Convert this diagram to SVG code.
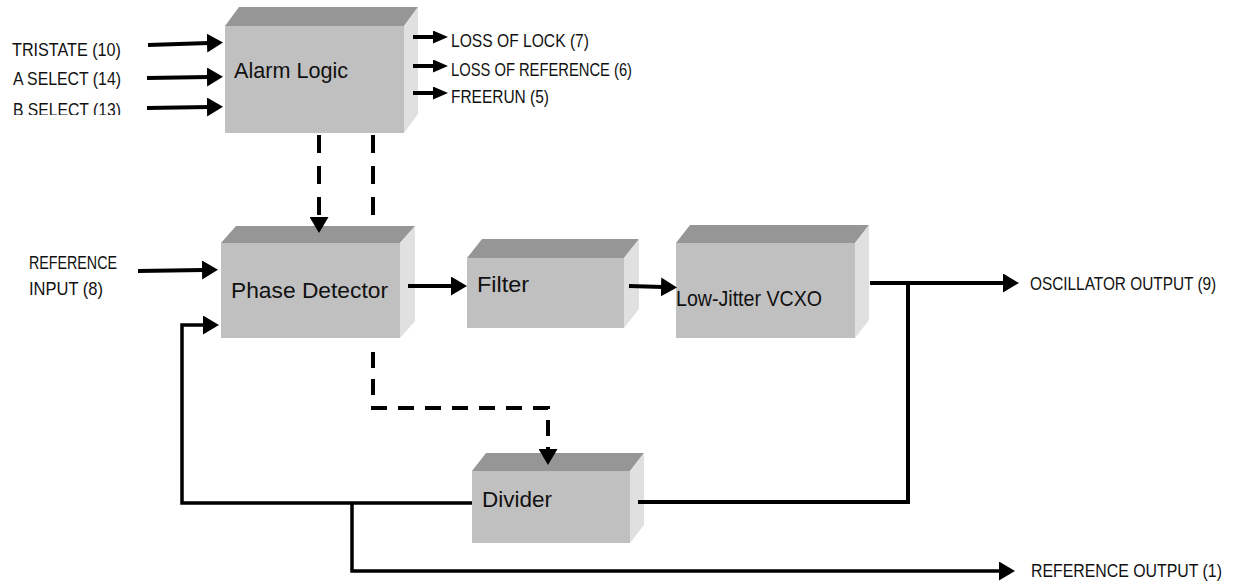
<svg xmlns="http://www.w3.org/2000/svg" width="1233" height="585" viewBox="0 0 1233 585">
  <style>
    .front { fill: #c0c0c0; }
    .top { fill: #969696; }
    .side { fill: #e0e0e0; }
    .lbl { font-family: "Liberation Sans", Arial, sans-serif; font-size: 19px; fill: #111; }
    .blbl { font-family: "Liberation Sans", Arial, sans-serif; font-size: 22px; fill: #111; }
    .ln { fill: none; stroke: #000; stroke-width: 4; }
    .thin { fill: none; stroke: #000; stroke-width: 3.5; }
    .dash { fill: none; stroke: #000; stroke-width: 4; stroke-dasharray: 18 13; }
    .dash2 { fill: none; stroke: #000; stroke-width: 4; stroke-dasharray: 16 11; }
  </style>
  <defs>
    <marker id="ah" viewBox="0 0 16 19" markerWidth="16" markerHeight="19" markerUnits="userSpaceOnUse" refX="2" refY="9.5" orient="auto">
      <path d="M0,0 L16,9.5 L0,19 Z" fill="#000"/>
    </marker>
    <marker id="ahs" viewBox="0 0 15 13" markerWidth="15" markerHeight="13" markerUnits="userSpaceOnUse" refX="2" refY="6.5" orient="auto">
      <path d="M0,0 L15,6.5 L0,13 Z" fill="#000"/>
    </marker>
    <clipPath id="clipB">
      <rect x="0" y="0" width="140" height="115"/>
    </clipPath>
  </defs>

  <!-- Nodes -->
  <g id="alarm-logic">
    <polygon class="top" points="225,26 239,7 418,7 404,26"/>
    <polygon class="side" points="404,26 418,7 418,114 404,133"/>
    <rect class="front" x="225" y="26" width="179" height="107"/>
    <text class="blbl" x="234" y="78" textLength="114" lengthAdjust="spacingAndGlyphs">Alarm Logic</text>
  </g>

  <g id="phase-detector">
    <polygon class="top" points="221,243 236,226 415,226 400,243"/>
    <polygon class="side" points="400,243 415,226 415,321 400,338"/>
    <rect class="front" x="221" y="243" width="179" height="95"/>
    <text class="blbl" x="231" y="298" textLength="157" lengthAdjust="spacingAndGlyphs">Phase Detector</text>
  </g>

  <g id="filter">
    <polygon class="top" points="467,258 482,239 639,239 624,258"/>
    <polygon class="side" points="624,258 639,239 639,309 624,328"/>
    <rect class="front" x="467" y="258" width="157" height="70"/>
    <text class="blbl" x="477" y="292" textLength="52" lengthAdjust="spacingAndGlyphs">Filter</text>
  </g>

  <g id="vcxo">
    <polygon class="top" points="676,243 690,225 869,225 855,243"/>
    <polygon class="side" points="855,243 869,225 869,320 855,338"/>
    <rect class="front" x="676" y="243" width="179" height="95"/>
    <text class="blbl" x="676" y="306" textLength="146" lengthAdjust="spacingAndGlyphs">Low-Jitter VCXO</text>
  </g>

  <g id="divider">
    <polygon class="top" points="472,471 486,453 644,453 630,471"/>
    <polygon class="side" points="630,471 644,453 644,525 630,543"/>
    <rect class="front" x="472" y="471" width="158" height="72"/>
    <text class="blbl" x="482" y="507" textLength="70" lengthAdjust="spacingAndGlyphs">Divider</text>
  </g>

  <g id="labels">
    <text class="lbl" x="12" y="56" textLength="109" lengthAdjust="spacingAndGlyphs">TRISTATE (10)</text>
    <text class="lbl" x="13" y="85" textLength="108" lengthAdjust="spacingAndGlyphs">A SELECT (14)</text>
    <text class="lbl" x="13" y="116" textLength="108" lengthAdjust="spacingAndGlyphs" clip-path="url(#clipB)">B SELECT (13)</text>
    <text class="lbl" x="451" y="47" textLength="138" lengthAdjust="spacingAndGlyphs">LOSS OF LOCK (7)</text>
    <text class="lbl" x="451" y="76" textLength="181" lengthAdjust="spacingAndGlyphs">LOSS OF REFERENCE (6)</text>
    <text class="lbl" x="451" y="103" textLength="98" lengthAdjust="spacingAndGlyphs">FREERUN (5)</text>
    <text class="lbl" x="29" y="269" textLength="88" lengthAdjust="spacingAndGlyphs">REFERENCE</text>
    <text class="lbl" x="29" y="295" textLength="74" lengthAdjust="spacingAndGlyphs">INPUT (8)</text>
    <text class="lbl" transform="translate(1030,290) scale(0.81,1)">OSCILLATOR OUTPUT (9)</text>
    <text class="lbl" transform="translate(1031,577) scale(0.835,1)">REFERENCE OUTPUT (1)</text>
  </g>

  <!-- Connectors -->
  <g id="connectors">
    <path class="ln" d="M148,45 L209,43" marker-end="url(#ah)"/>
    <path class="ln" d="M147,78 L209,77" marker-end="url(#ah)"/>
    <path class="ln" d="M147,108 L209,107" marker-end="url(#ah)"/>
    <path class="ln" d="M413,37 L435,37" marker-end="url(#ahs)"/>
    <path class="ln" d="M413,66 L435,66" marker-end="url(#ahs)"/>
    <path class="ln" d="M413,93 L435,93" marker-end="url(#ahs)"/>
    <path class="dash" d="M319,135 L319,219" marker-end="url(#ah)"/>
    <path class="dash" d="M373,135 L373,216"/>
    <path class="dash2" d="M373,352 L373,408 L548,408 L548,451" marker-end="url(#ah)"/>
    <path class="ln" d="M138,271 L204,270" marker-end="url(#ah)"/>
    <path class="ln" d="M408,286 L453,286" marker-end="url(#ah)"/>
    <path class="ln" d="M629,286 L663,287" marker-end="url(#ah)"/>
    <path class="ln" d="M870,283 L1005,283" marker-end="url(#ah)"/>
    <path class="ln" d="M908,283 L908,502 L638,502"/>
    <path class="thin" d="M472,503 L182,503 L182,325 L205,325" marker-end="url(#ah)"/>
    <path class="thin" d="M352,503 L352,571 L1001,571" marker-end="url(#ah)"/>
  </g>
</svg>
